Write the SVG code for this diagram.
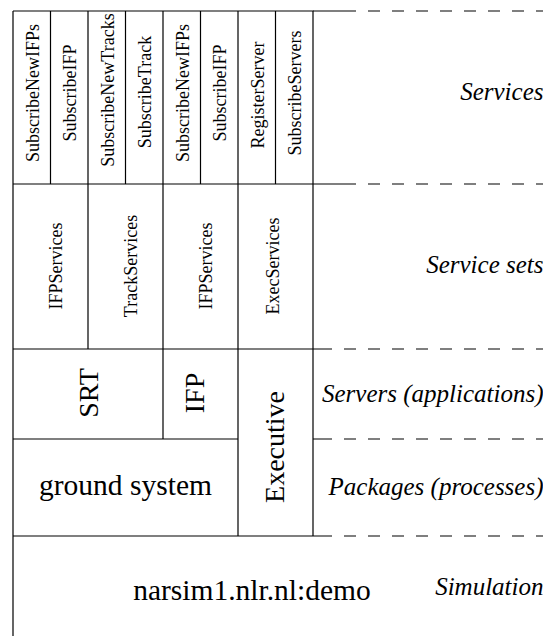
<svg xmlns="http://www.w3.org/2000/svg" width="543" height="636" viewBox="0 0 543 636">
  <style>
    .ln { stroke: #000; stroke-width: 1.2; fill: none; }
    .dash { stroke: #000; stroke-width: 1.2; fill: none; stroke-dasharray: 12 12; }
    text { font-family: 'Liberation Serif', 'Times New Roman', Times, 'DejaVu Serif', serif; fill: #000; }
    .t { text-anchor: middle; }
    .s { font-size: 18px; }
    .b { font-size: 28px; }
    .h { font-size: 29.5px; }
    .lbl { font-style: italic; font-size: 25px; text-anchor: end; }
  </style>
  <rect width="543" height="636" fill="#fff"/>

  <!-- grid lines of the layer diagram -->
  <g id="connectors">
    <!-- outer frame -->
    <path class="ln" d="M13 11 V636 M13 11 H313 V536 M13 184 H313 M13 349 H313 M13 536 H313 M13 439 H238"/>
    <!-- services row dividers -->
    <path class="ln" d="M50.5 11 V184 M88 11 V349 M125.5 11 V184 M163 11 V439 M200.5 11 V184 M238 11 V536 M275.5 11 V184"/>
    <!-- layer separators to the right -->
    <path class="ln" d="M313 11 H356 M313 184 H356 M313 349 H332 M313 439 H332 M313 536 H332"/>
    <path class="dash" d="M368 11 H543 M368 184 H543 M344 349 H543 M344 439 H543 M344 536 H543"/>
  </g>

  <!-- services -->
  <g id="svc-subscribeNewIFPs-1"><text class="t s" transform="translate(38.5,93) rotate(-90)">SubscribeNewIFPs</text></g>
  <g id="svc-subscribeIFP-1"><text class="t s" transform="translate(76,93) rotate(-90)">SubscribeIFP</text></g>
  <g id="svc-subscribeNewTracks"><text class="t s" transform="translate(113.5,90) rotate(-90)">SubscribeNewTracks</text></g>
  <g id="svc-subscribeTrack"><text class="t s" transform="translate(151,92) rotate(-90)">SubscribeTrack</text></g>
  <g id="svc-subscribeNewIFPs-2"><text class="t s" transform="translate(188.5,93) rotate(-90)">SubscribeNewIFPs</text></g>
  <g id="svc-subscribeIFP-2"><text class="t s" transform="translate(226,93) rotate(-90)">SubscribeIFP</text></g>
  <g id="svc-registerServer"><text class="t s" transform="translate(263.5,95) rotate(-90)">RegisterServer</text></g>
  <g id="svc-subscribeServers"><text class="t s" transform="translate(301,93) rotate(-90)">SubscribeServers</text></g>

  <!-- service sets -->
  <g id="set-ifpServices-1"><text class="t s" transform="translate(62,266) rotate(-90)">IFPServices</text></g>
  <g id="set-trackServices"><text class="t s" transform="translate(137,266) rotate(-90)">TrackServices</text></g>
  <g id="set-ifpServices-2"><text class="t s" transform="translate(212,266) rotate(-90)">IFPServices</text></g>
  <g id="set-execServices"><text class="t s" transform="translate(279,266) rotate(-90)">ExecServices</text></g>

  <!-- servers / packages -->
  <g id="srv-srt"><text class="t b" transform="translate(98,393) rotate(-90)">SRT</text></g>
  <g id="srv-ifp"><text class="t b" transform="translate(204,393) rotate(-90)">IFP</text></g>
  <g id="pkg-executive"><text class="t b" transform="translate(284,447) rotate(-90)">Executive</text></g>
  <g id="pkg-ground"><text class="t h" x="125.5" y="495">ground system</text></g>
  <g id="sim-host"><text class="t h" x="252" y="600">narsim1.nlr.nl:demo</text></g>

  <!-- layer names -->
  <g id="layer-labels">
    <text class="lbl" x="543.5" y="100">Services</text>
    <text class="lbl" x="543.5" y="273">Service sets</text>
    <text class="lbl" x="543.5" y="402">Servers (applications)</text>
    <text class="lbl" x="543.5" y="495">Packages (processes)</text>
    <text class="lbl" x="543.5" y="595">Simulation</text>
  </g>
</svg>
